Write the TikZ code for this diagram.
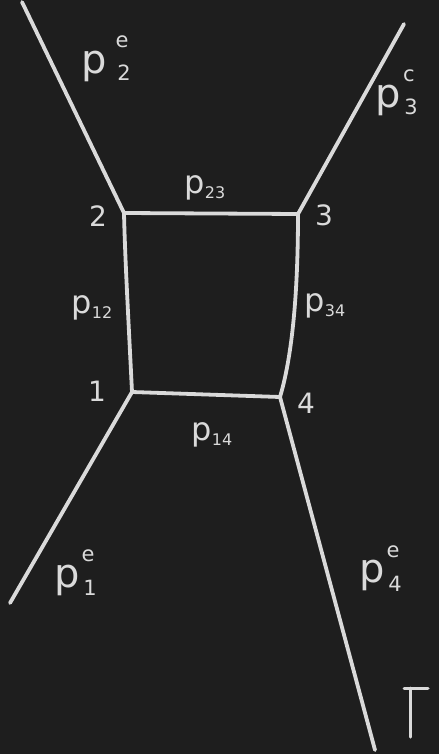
\documentclass[tikz,border=0pt]{standalone}
\usepackage{fontspec}
\setmainfont{DejaVu Sans}
\definecolor{board}{HTML}{1E1E1E}
\definecolor{chalk}{HTML}{DADADA}
\newcommand{\psub}[1]{p\raisebox{-0.25ex}{\fontsize{16}{18}\selectfont #1}}
\begin{document}
\begin{tikzpicture}[x=1pt,y=-1pt,
  chalkline/.style={draw=chalk,line width=3.8pt,line cap=round,line join=round},
  lbl/.style={text=chalk,font=\fontsize{40}{42}\selectfont,inner sep=0pt},
  inner/.style={text=chalk,font=\fontsize{32}{34}\selectfont,inner sep=0pt},
  idx/.style={text=chalk,font=\fontsize{21}{23}\selectfont,inner sep=0pt},
  num/.style={text=chalk,font=\fontsize{28}{30}\selectfont,inner sep=0pt}]
\fill[board] (0,0) rectangle (439,754);
\useasboundingbox (0,0) rectangle (439,754);
% vertices
\coordinate (v1) at (132,392);
\coordinate (v2) at (124,213);
\coordinate (v3) at (298,214);
\coordinate (v4) at (280,397);
% external ends
\coordinate (e2) at (22,2);
\coordinate (e3) at (404,24);
\coordinate (e1) at (10,603);
\coordinate (e4) at (375,750);
% box
\draw[chalkline] (v2) -- (v3);
\draw[chalkline] (v1) .. controls (129,330) and (125,260) .. (v2);
\draw[chalkline] (v3) .. controls (298,280) and (294,350) .. (v4);
\draw[chalkline] (v1) -- (v4);
% external legs
\draw[chalkline] (e2) -- (v2);
\draw[chalkline] (e3) -- (v3);
\draw[chalkline] (v1) -- (e1);
\draw[chalkline] (v4) -- (e4);
% T mark
\coordinate (ta) at (404,688);
\coordinate (tb) at (428,688);
\coordinate (tc) at (410,688);
\coordinate (td) at (410,737);
\draw[chalkline,line width=3pt] (ta) -- (tb);
\draw[chalkline,line width=3pt] (tc) -- (td);
% external labels (p, superscript, subscript)
\node[lbl] (lp2) at (94,66) {p};
\node[idx] (lp2s) at (122,42) {e};
\node[idx] (lp2i) at (124,73) {2};
\node[lbl] (lp3) at (388,100) {p};
\node[idx] (lp3s) at (409,76) {c};
\node[idx] (lp3i) at (411,107) {3};
\node[lbl] (lp1) at (67,580) {p};
\node[idx] (lp1s) at (88,556) {e};
\node[idx] (lp1i) at (90,588) {1};
\node[lbl] (lp4) at (372,575) {p};
\node[idx] (lp4s) at (393,552) {e};
\node[idx] (lp4i) at (395,584) {4};
% internal labels
\node[inner] (lp23) at (205,188) {\psub{23}};
\node[inner] (lp12) at (92,308) {\psub{12}};
\node[inner] (lp34) at (325,306) {\psub{34}};
\node[inner] (lp14) at (212,435) {\psub{14}};
% vertex numbers
\node[num] (n2) at (98,216) {2};
\node[num] (n3) at (324,215) {3};
\node[num] (n1) at (97,391) {1};
\node[num] (n4) at (306,403) {4};
\end{tikzpicture}
\end{document}
